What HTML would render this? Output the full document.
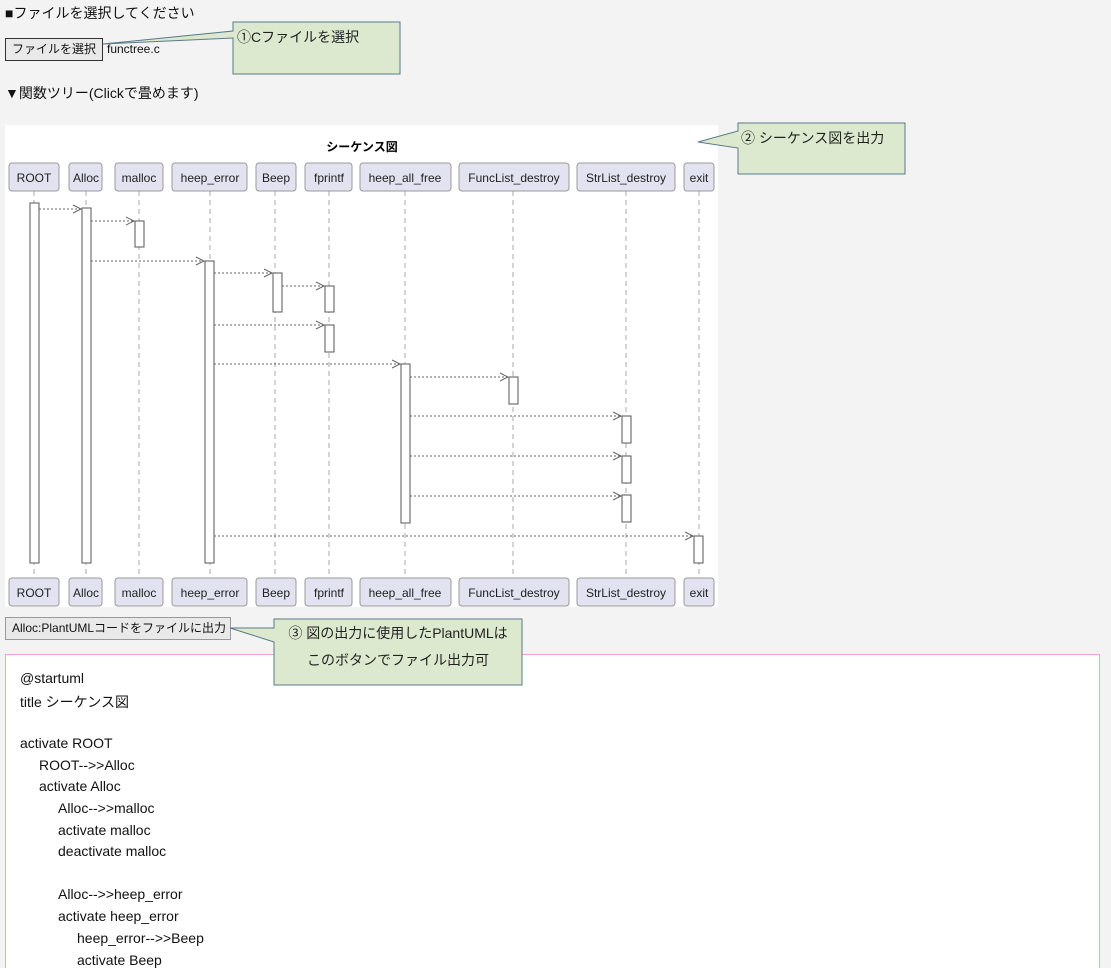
<!DOCTYPE html>
<html><head><meta charset="utf-8"><style>
html,body{margin:0;width:1111px;height:968px;overflow:hidden}
body{background:#f3f3f3;font-family:"Liberation Sans","Noto Sans CJK JP",sans-serif;position:relative;color:#111}
.t{position:absolute;font-size:14px;white-space:nowrap}
.btn{position:absolute;border:1px solid #555;background:#e9e9e9;font-size:12px;box-sizing:border-box;padding:3px 6px;white-space:nowrap;line-height:15px}
.code{position:absolute;left:5px;top:654px;width:1095px;height:314px;border:1px solid #f0a0d8;border-bottom:none;background:#fff;box-sizing:border-box}
.code div{position:absolute;font-size:14px;white-space:nowrap}
</style></head><body>
<div class="t" style="left:5px;top:3px">■ファイルを選択してください</div>
<div class="btn" style="left:5px;top:38px;width:98px;height:23px;border:1.5px solid #333">ファイルを選択</div>
<div class="t" style="left:107px;top:42px;font-size:12px">functree.c</div>
<div class="t" style="left:5px;top:83px">▼関数ツリー(Clickで畳めます)</div>
<div style="position:absolute;left:5px;top:125px;width:713px;height:482px;background:#fff"></div>
<div class="btn" style="left:5px;top:617px;width:226px;height:23px;border-color:#999;font-size:12px">Alloc:PlantUMLコードをファイルに出力</div>
<div class="code">
<div style="left:14px;top:15px">@startuml</div>
<div style="left:14px;top:37px">title シーケンス図</div>
<div style="left:14px;top:80px">activate ROOT</div>
<div style="left:33px;top:102px">ROOT-->>Alloc</div>
<div style="left:33px;top:123px">activate Alloc</div>
<div style="left:52px;top:145px">Alloc-->>malloc</div>
<div style="left:52px;top:167px">activate malloc</div>
<div style="left:52px;top:188px">deactivate malloc</div>
<div style="left:52px;top:231px">Alloc-->>heep_error</div>
<div style="left:52px;top:253px">activate heep_error</div>
<div style="left:71px;top:275px">heep_error-->>Beep</div>
<div style="left:71px;top:297px">activate Beep</div>
</div>
<svg width="1111" height="968" style="position:absolute;left:0;top:0" font-family="Liberation Sans, Noto Sans CJK JP, sans-serif">
<text x="362" y="151" font-size="12" font-weight="bold" text-anchor="middle">シーケンス図</text>
<g stroke="#aaa" stroke-dasharray="5,4" stroke-width="1">
<line x1="34" y1="191" x2="34" y2="578"/><line x1="86" y1="191" x2="86" y2="578"/><line x1="139" y1="191" x2="139" y2="578"/><line x1="210" y1="191" x2="210" y2="578"/><line x1="275" y1="191" x2="275" y2="578"/><line x1="329" y1="191" x2="329" y2="578"/><line x1="405" y1="191" x2="405" y2="578"/><line x1="513" y1="191" x2="513" y2="578"/><line x1="626" y1="191" x2="626" y2="578"/><line x1="699" y1="191" x2="699" y2="578"/>
</g>
<g fill="#e2e2f0" stroke="#999" stroke-width="1">
<rect x="9" y="163" width="50" height="28" rx="3"/><rect x="69" y="163" width="33" height="28" rx="3"/><rect x="115" y="163" width="48" height="28" rx="3"/><rect x="172" y="163" width="75" height="28" rx="3"/><rect x="256" y="163" width="40" height="28" rx="3"/><rect x="305" y="163" width="47" height="28" rx="3"/><rect x="360" y="163" width="91" height="28" rx="3"/><rect x="459" y="163" width="110" height="28" rx="3"/><rect x="577" y="163" width="98" height="28" rx="3"/><rect x="684" y="163" width="30" height="28" rx="3"/>
<rect x="9" y="578" width="50" height="28" rx="3"/><rect x="69" y="578" width="33" height="28" rx="3"/><rect x="115" y="578" width="48" height="28" rx="3"/><rect x="172" y="578" width="75" height="28" rx="3"/><rect x="256" y="578" width="40" height="28" rx="3"/><rect x="305" y="578" width="47" height="28" rx="3"/><rect x="360" y="578" width="91" height="28" rx="3"/><rect x="459" y="578" width="110" height="28" rx="3"/><rect x="577" y="578" width="98" height="28" rx="3"/><rect x="684" y="578" width="30" height="28" rx="3"/>
</g>
<g font-size="12" text-anchor="middle" fill="#222">
<text x="34" y="182">ROOT</text><text x="86" y="182">Alloc</text><text x="139" y="182">malloc</text><text x="210" y="182">heep_error</text><text x="276" y="182">Beep</text><text x="329" y="182">fprintf</text><text x="405" y="182">heep_all_free</text><text x="514" y="182">FuncList_destroy</text><text x="626" y="182">StrList_destroy</text><text x="699" y="182">exit</text>
<text x="34" y="597">ROOT</text><text x="86" y="597">Alloc</text><text x="139" y="597">malloc</text><text x="210" y="597">heep_error</text><text x="276" y="597">Beep</text><text x="329" y="597">fprintf</text><text x="405" y="597">heep_all_free</text><text x="514" y="597">FuncList_destroy</text><text x="626" y="597">StrList_destroy</text><text x="699" y="597">exit</text>
</g>
<g fill="#fff" stroke="#555" stroke-width="1">
<rect x="30" y="203" width="9" height="360"/><rect x="82" y="208" width="9" height="355"/><rect x="135" y="221" width="9" height="26"/><rect x="205" y="261" width="9" height="302"/><rect x="273" y="273" width="9" height="39"/><rect x="325" y="286" width="9" height="26"/><rect x="325" y="325" width="9" height="27"/><rect x="401" y="364" width="9" height="159"/><rect x="509" y="377" width="9" height="27"/><rect x="622" y="416" width="9" height="27"/><rect x="622" y="456" width="9" height="27"/><rect x="622" y="495" width="9" height="27"/><rect x="694" y="536" width="9" height="27"/>
</g>
<g stroke="#666" fill="none" stroke-width="1">
<g stroke-dasharray="2,2">
<line x1="39" y1="209" x2="81" y2="209"/><line x1="91" y1="221" x2="134" y2="221"/><line x1="91" y1="261" x2="204" y2="261"/><line x1="214" y1="273" x2="272" y2="273"/><line x1="282" y1="286" x2="324" y2="286"/><line x1="214" y1="325" x2="324" y2="325"/><line x1="214" y1="364" x2="400" y2="364"/><line x1="410" y1="377" x2="508" y2="377"/><line x1="410" y1="416" x2="621" y2="416"/><line x1="410" y1="456" x2="621" y2="456"/><line x1="410" y1="496" x2="621" y2="496"/><line x1="214" y1="536" x2="693" y2="536"/>
</g>
<path d="M73 205L81 209L73 213M126 217L134 221L126 225M196 257L204 261L196 265M264 269L272 273L264 277M316 282L324 286L316 290M316 321L324 325L316 329M392 360L400 364L392 368M500 373L508 377L500 381M613 412L621 416L613 420M613 452L621 456L613 460M613 492L621 496L613 500M685 532L693 536L685 540"/>
</g>
<g fill="#dde9cf" stroke="#5a7a8a" stroke-width="1">
<path d="M233 22H400V74H233V38L103 44L233 31Z"/>
<path d="M738 123H905V174H738V148L698 142L738 131Z"/>
<path d="M274 619H522V685H274V642L230 628L274 628Z"/>
</g>
<g font-size="14" fill="#222">
<text x="237" y="42">①Cファイルを選択</text>
<text x="741" y="143">② シーケンス図を出力</text>
<text x="398" y="638" text-anchor="middle">③ 図の出力に使用したPlantUMLは</text>
<text x="398" y="665" text-anchor="middle">このボタンでファイル出力可</text>
</g>
</svg>
</body></html>
